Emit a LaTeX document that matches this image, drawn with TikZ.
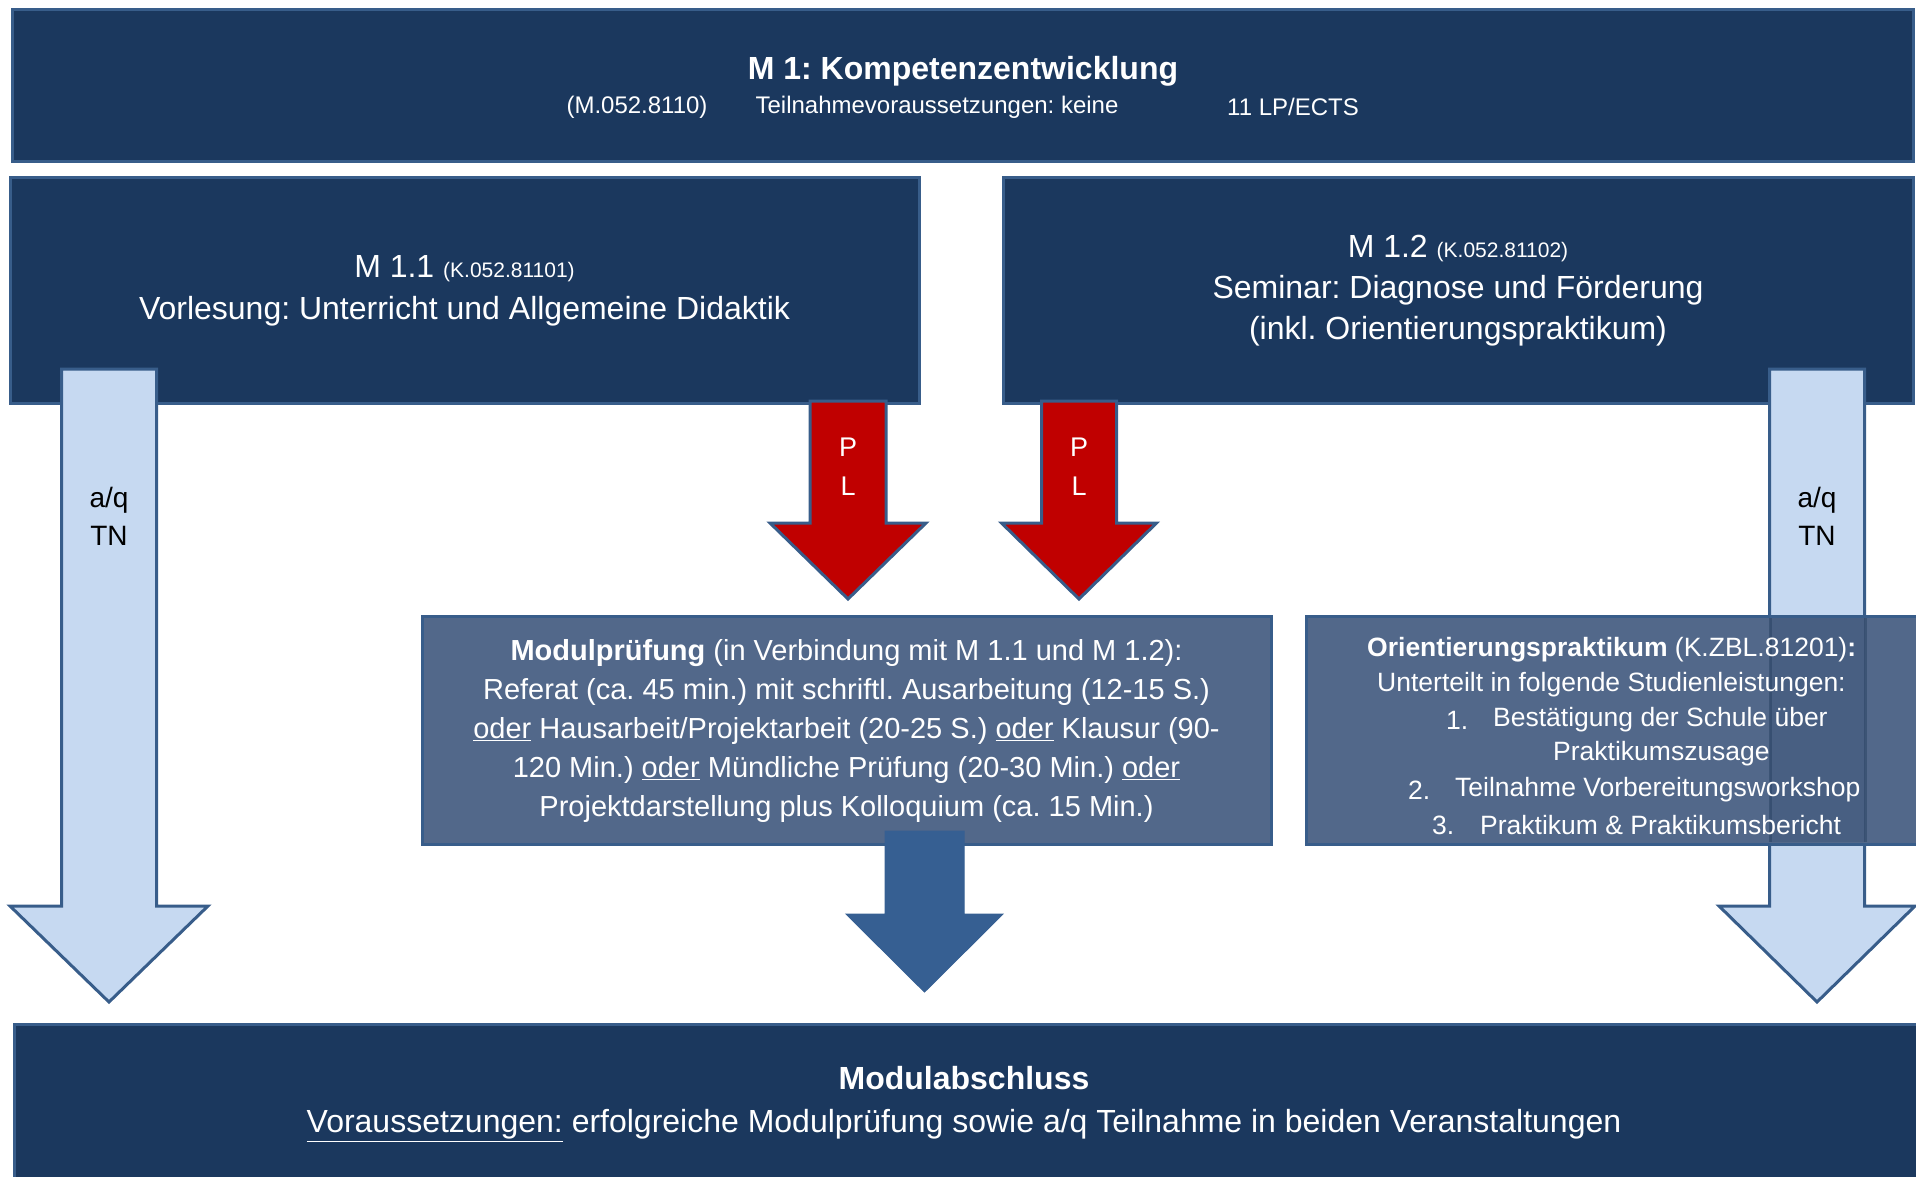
\documentclass[tikz,border=0pt]{standalone}
\usepackage{fontspec}
\setmainfont{Liberation Sans}
\frenchspacing
\definecolor{navy}{HTML}{1B385E}
\definecolor{bord}{HTML}{385D8A}
\definecolor{lightfill}{HTML}{C6D9F1}
\definecolor{midfill}{HTML}{52688A}
\definecolor{redfill}{HTML}{C00000}
\definecolor{bluefill}{HTML}{365F92}
\newcommand\fs[2]{\fontsize{#1}{#2}\selectfont}
% #1 style, #2 centre x, #3 top, #4 shaft half width, #5 head top, #6 head half width, #7 tip
\newcommand\blockarrow[7]{\draw[#1] ({#2-#4},#3) -- ({#2+#4},#3) -- ({#2+#4},#5) -- ({#2+#6},#5) -- (#2,#7) -- ({#2-#6},#5) -- ({#2-#4},#5) -- cycle;}
\begin{document}
\begin{tikzpicture}[x=1pt,y=-1pt,
  box/.style={draw=bord, fill=navy, line width=3pt, inner sep=0pt, outer sep=0pt, text=white},
  midbox/.style={draw=bord, fill=midfill, line width=3pt, inner sep=0pt, outer sep=0pt, text=white},
  lightarrow/.style={draw=bord, fill=lightfill, line width=3pt, line join=miter},
  redarrow/.style={draw=bord, fill=redfill, line width=3pt, line join=miter},
  bluearrow/.style={draw=bluefill, fill=bluefill, line width=1pt},
  wt24/.style={text=white, font=\fs{24}{29}, inner sep=0pt},
  otext/.style={text=white, font=\fs{26.5}{35}, inner sep=0pt, anchor=west}]
\useasboundingbox (0,0) rectangle (1916,1176);
\clip (0,0) rectangle (1916,1176);

% top box
\node[box, minimum width=1901pt, minimum height=152pt] (top) at (962.5,85) {};
\node[text=white, font=\fs{32}{38}\bfseries, inner sep=0pt] (title) at (963,71) {M 1: Kompetenzentwicklung};
\node[wt24] (code) at (637,107) {(M.052.8110)};
\node[wt24] (prereq) at (937,107) {Teilnahmevoraussetzungen: keine};
\node[wt24] (lp) at (1293,107) {11 LP/ECTS};

% course boxes
\node[box, minimum width=909pt, minimum height=226pt, align=center, font=\fs{32}{42}] (m11) at (464.5,290) {};
\node[text=white, align=center, font=\fs{32}{42}, inner sep=0pt] (m11t) at (464.5,291)
  {M 1.1 {\fs{21}{25}(K.052.81101)}\\Vorlesung: Unterricht und Allgemeine Didaktik};
\node[box, minimum width=910pt, minimum height=226pt] (m12) at (1458,290) {};
\node[text=white, align=center, font=\fs{32}{41}, inner sep=0pt] (m12t) at (1458,291)
  {M 1.2 {\fs{21}{25}(K.052.81102)}\\Seminar: Diagnose und Förderung\\(inkl. Orientierungspraktikum)};

% light arrows
\blockarrow{lightarrow}{109}{369}{47.5}{906}{99}{1002}
\node[font=\fs{28}{38}, align=center, inner sep=0pt] (aqL) at (109,516) {a/q\\TN};
\blockarrow{lightarrow}{1817}{369}{47.5}{906}{98}{1002}
\node[font=\fs{28}{38}, align=center, inner sep=0pt] (aqR) at (1817,516) {a/q\\TN};

% red arrows
\blockarrow{redarrow}{848}{401}{38}{523}{78}{599}
\node[text=white, font=\fs{27}{39}, align=center, inner sep=0pt] (pl1) at (848,467) {P\\L};
\blockarrow{redarrow}{1079}{401}{37.5}{523}{77.5}{599}
\node[text=white, font=\fs{27}{39}, align=center, inner sep=0pt] (pl2) at (1079,467) {P\\L};

% module exam
\node[midbox, minimum width=849pt, minimum height=228pt] (exam) at (846.5,730) {};
\node[text=white, align=center, font=\fs{29}{39}, inner sep=0pt] (examt) at (846.5,731)
  {\textbf{Modulprüfung} (in Verbindung mit M 1.1 und M 1.2):\\
   Referat (ca. 45 min.) mit schriftl. Ausarbeitung (12-15 S.)\\
   \underline{oder} Hausarbeit/Projektarbeit (20-25 S.) \underline{oder} Klausur (90-\\
   120 Min.) \underline{oder} Mündliche Prüfung (20-30 Min.) \underline{oder}\\
   Projektdarstellung plus Kolloquium (ca. 15 Min.)};
\blockarrow{bluearrow}{924.5}{831}{39.5}{914}{78.5}{992}

% orientation internship
\node[midbox, minimum width=624pt, minimum height=228pt] (orient) at (1618,730) {};
\fill[navy, opacity=0.18] (1770,618) rectangle (1865,842);
\draw[bord!70!black, line width=3pt, opacity=0.5] (1770,618) -- (1770,842) (1865,618) -- (1865,842);
\node[otext] (o1) at (1367,650) {\textbf{Orientierungspraktikum} (K.ZBL.81201)\textbf{:}};
\node[otext] (o2) at (1377,685) {Unterteilt in folgende Studienleistungen:};
\node[otext] (o3n) at (1446,720) {1.};
\node[otext] (o3) at (1493,720) {Bestätigung der Schule über};
\node[otext] (o4) at (1553,754) {Praktikumszusage};
\node[otext] (o5n) at (1408,790) {2.};
\node[otext] (o5) at (1455,790) {Teilnahme Vorbereitungsworkshop};
\node[otext] (o6n) at (1432,825) {3.};
\node[otext] (o6) at (1480,825) {Praktikum \& Praktikumsbericht};

% bottom box
\node[box, minimum width=1916pt, minimum height=166pt] (bottom) at (972,1107) {};
\node[text=white, font=\fs{32}{43}, align=center, inner sep=0pt] (bottomtext) at (964,1104)
  {\textbf{Modulabschluss}\\\underline{Voraussetzungen:} erfolgreiche Modulprüfung sowie a/q Teilnahme in beiden Veranstaltungen};
\end{tikzpicture}
\end{document}
